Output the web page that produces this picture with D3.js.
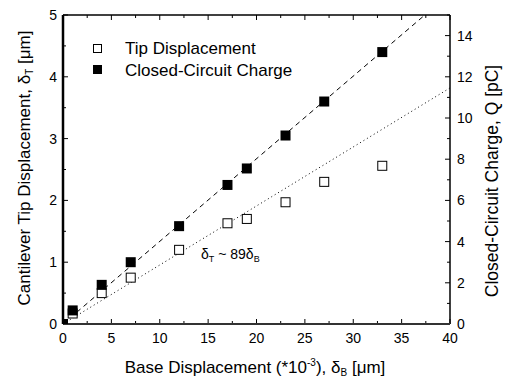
<!DOCTYPE html>
<html>
<head>
<meta charset="utf-8">
<script src="https://cdn.jsdelivr.net/npm/d3@7"></script>
<style>
  body { margin: 0; background: #fff; }
  text { font-family: "Liberation Sans", Arial, sans-serif; fill: #000; }
</style>
</head>
<body>
<div id="chart"></div>
<script>
// base displacement (*10^-3 um)
const baseDisp = [0, 1, 4, 7, 12, 17, 19, 23, 27, 33];
// tip displacement, um (left axis)
const tipDisp = [0, 0.17, 0.5, 0.75, 1.2, 1.63, 1.7, 1.97, 2.3, 2.56];
// closed-circuit charge, pC (right axis)
const charge = [0, 0.66, 1.9, 3.0, 4.75, 6.75, 7.55, 9.15, 10.8, 13.2];
// fitted lines: [x, y] endpoints
const chargeFit = [[0, 0], [37.4, 15]];     // pC
const tipFit = [[0, 0], [40, 3.82]];        // um
const xTicks = [0, 5, 10, 15, 20, 25, 30, 35, 40];
const yLeftTicks = [0, 1, 2, 3, 4, 5];
const yRightTicks = [0, 2, 4, 6, 8, 10, 12, 14];

const width = 505, height = 381;
const margin = {top: 15, right: 55, bottom: 57, left: 63};
const svg = d3.select("#chart").append("svg")
  .attr("width", width).attr("height", height);

const x = d3.scaleLinear().domain([0, 40]).range([margin.left, width - margin.right]);
const yL = d3.scaleLinear().domain([0, 5]).range([height - margin.bottom, margin.top]);
const yR = d3.scaleLinear().domain([0, 15]).range([height - margin.bottom, margin.top]);

const x0 = x(0), x1 = x(40), y0 = yL(0), y1 = yL(5);

// tick marks (inward), major + minor
const tickG = svg.append("g").attr("stroke", "#000").attr("stroke-width", 1);
d3.range(0, 40.01, 2.5).forEach(v => {
  const len = v % 5 === 0 ? 5 : 3;
  tickG.append("line").attr("x1", x(v)).attr("x2", x(v)).attr("y1", y0).attr("y2", y0 - len);
  tickG.append("line").attr("x1", x(v)).attr("x2", x(v)).attr("y1", y1).attr("y2", y1 + len);
});
d3.range(0, 5.01, 0.5).forEach(v => {
  const len = Number.isInteger(v) ? 5 : 3;
  tickG.append("line").attr("x1", x0).attr("x2", x0 + len).attr("y1", yL(v)).attr("y2", yL(v));
});
d3.range(0, 15.01, 1).forEach(v => {
  const len = v % 2 === 0 ? 5 : 3;
  tickG.append("line").attr("x1", x1).attr("x2", x1 - len).attr("y1", yR(v)).attr("y2", yR(v));
});

// frame
svg.append("line").attr("x1", x0).attr("x2", x1).attr("y1", y1).attr("y2", y1)
  .attr("stroke", "#000").attr("stroke-width", 1.5);
svg.append("line").attr("x1", x1).attr("x2", x1).attr("y1", y1).attr("y2", y0)
  .attr("stroke", "#000").attr("stroke-width", 1.5);
svg.append("line").attr("x1", x0).attr("x2", x1).attr("y1", y0).attr("y2", y0)
  .attr("stroke", "#333").attr("stroke-width", 2);
svg.append("line").attr("x1", x0).attr("x2", x0).attr("y1", y1).attr("y2", y0)
  .attr("stroke", "#000").attr("stroke-width", 2.5);

// tick labels
svg.selectAll(".xl").data(xTicks).enter().append("text")
  .attr("x", d => x(d)).attr("y", y0 + 19)
  .attr("text-anchor", "middle").attr("font-size", 14).text(d => d);
svg.selectAll(".yl").data(yLeftTicks).enter().append("text")
  .attr("x", x0 - 6).attr("y", d => yL(d) + 5)
  .attr("text-anchor", "end").attr("font-size", 14).text(d => d);
svg.selectAll(".yr").data(yRightTicks).enter().append("text")
  .attr("x", x1 + 7).attr("y", d => yR(d) + 5)
  .attr("text-anchor", "start").attr("font-size", 14).text(d => d);

// fit lines
const line = d3.line();
svg.append("path")
  .attr("d", line(chargeFit.map(d => [x(d[0]), yR(d[1])])))
  .attr("stroke", "#000").attr("stroke-width", 1).attr("stroke-dasharray", "5,4").attr("fill", "none");
svg.append("path")
  .attr("d", line(tipFit.map(d => [x(d[0]), yL(d[1])])))
  .attr("stroke", "#000").attr("stroke-width", 1).attr("stroke-dasharray", "1,3").attr("fill", "none");

// markers
const sq = 10;
svg.selectAll(".tip").data(baseDisp.map((d, i) => [d, tipDisp[i]]).slice(1)).enter().append("rect")
  .attr("x", d => x(d[0]) - sq / 2 + 0.5).attr("y", d => yL(d[1]) - sq / 2 + 0.5)
  .attr("width", sq - 1).attr("height", sq - 1)
  .attr("fill", "#fff").attr("stroke", "#000").attr("stroke-width", 1);
svg.selectAll(".chg").data(baseDisp.map((d, i) => [d, charge[i]])).enter().append("rect")
  .attr("x", d => x(d[0]) - sq / 2).attr("y", d => yR(d[1]) - sq / 2)
  .attr("width", sq).attr("height", sq)
  .attr("fill", "#000")
  .attr("clip-path", "url(#plotclip)");
svg.append("clipPath").attr("id", "plotclip").append("rect")
  .attr("x", x0).attr("y", y1).attr("width", x1 - x0).attr("height", y0 - y1);

// legend
const leg = svg.append("g");
leg.append("rect").attr("x", 93.5).attr("y", 44.5).attr("width", 8).attr("height", 8)
  .attr("fill", "#fff").attr("stroke", "#000");
leg.append("text").attr("x", 125).attr("y", 54).attr("font-size", 17).text("Tip Displacement");
leg.append("rect").attr("x", 93).attr("y", 65).attr("width", 9).attr("height", 9).attr("fill", "#000");
leg.append("text").attr("x", 125).attr("y", 76).attr("font-size", 17).text("Closed-Circuit Charge");

// annotation
const ann = svg.append("text").attr("x", 201).attr("y", 259).attr("font-size", 14);
ann.append("tspan").text("δ");
ann.append("tspan").attr("font-size", 9).attr("dy", 3).text("T");
ann.append("tspan").attr("dy", -3).text(" ~ 89δ");
ann.append("tspan").attr("font-size", 9).attr("dy", 3).text("B");

// axis titles
const xt = svg.append("text").attr("x", 255).attr("y", 373)
  .attr("text-anchor", "middle").attr("font-size", 17);
xt.append("tspan").text("Base Displacement (*10");
xt.append("tspan").attr("font-size", 10).attr("dy", -7).text("-3");
xt.append("tspan").attr("dy", 7).text("), δ");
xt.append("tspan").attr("font-size", 10).attr("dy", 3).text("B");
xt.append("tspan").attr("dy", -3).text(" [μm]");

const yt = svg.append("text")
  .attr("transform", "translate(30,168) rotate(-90)")
  .attr("text-anchor", "middle").attr("font-size", 17);
yt.append("tspan").text("Cantilever Tip Displacement, δ");
yt.append("tspan").attr("font-size", 10).attr("dy", 3).text("T");
yt.append("tspan").attr("dy", -3).text(" [μm]");

svg.append("text")
  .attr("transform", "translate(498,181) rotate(-90)")
  .attr("text-anchor", "middle").attr("font-size", 17.5)
  .text("Closed-Circuit Charge, Q [pC]");
</script>
</body>
</html>
